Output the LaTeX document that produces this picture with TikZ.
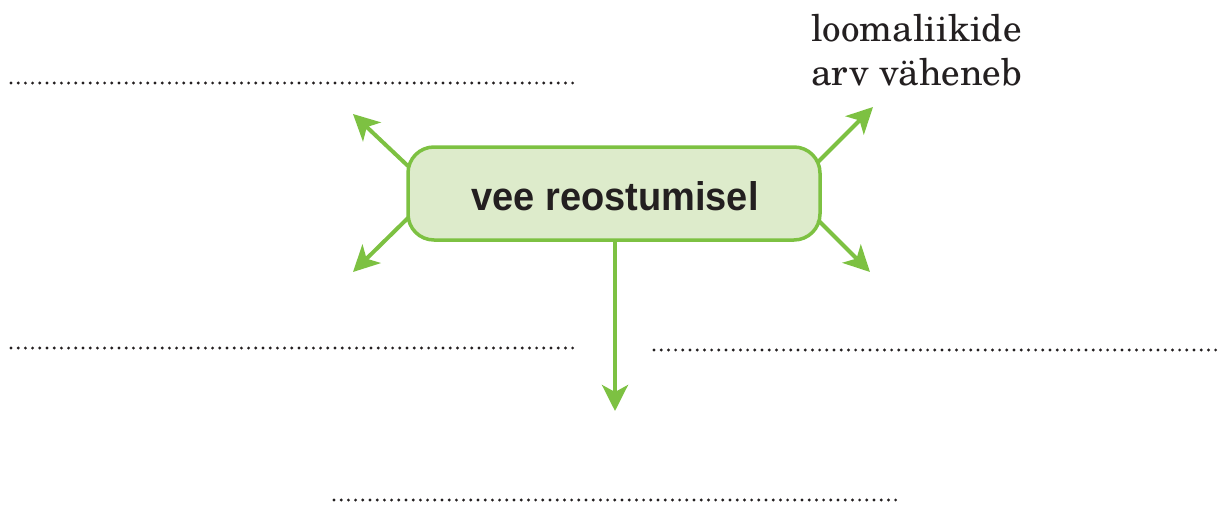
\documentclass[tikz,border=0pt]{standalone}
\usepackage{fontspec}
\setmainfont{TeX Gyre Schola}
\newfontfamily\boxfont{Liberation Sans}
\usetikzlibrary{arrows.meta}
\definecolor{lgreen}{HTML}{7DC142}
\definecolor{lfill}{HTML}{DDEBCB}
\definecolor{ink}{HTML}{231F20}
\tikzset{
  mainbox/.style={draw=lgreen, fill=lfill, line width=3.5pt, rounded corners=26pt, minimum width=412pt, minimum height=93pt, inner sep=0pt},
  garrow/.style={draw=lgreen, line width=4pt, -{Stealth[length=26pt,width=26pt,inset=7pt]}},
  blank/.style={draw=ink, line width=3.2pt, line cap=round, dash pattern=on 0pt off 7.2pt},
  lbl/.style={font=\fontsize{37}{44}\selectfont, text=ink, inner sep=0pt, anchor=base west}
}
\begin{document}
\begin{tikzpicture}[x=1pt,y=-1pt]
\useasboundingbox (0,0) rectangle (1219,506);
\node[mainbox] (c) at (614,193.5) {};
\node[font=\boxfont\bfseries\fontsize{40}{40}\selectfont, text=ink, xscale=0.95] (t) at (615,196) {vee reostumisel};
\coordinate (ul) at (353,114);
\coordinate (ll) at (353,272);
\coordinate (ur) at (873,107);
\coordinate (lr) at (870,272);
\coordinate (dn) at (615,411);
\draw[garrow] (408,166) -- (ul);
\draw[garrow] (409,217) -- (ll);
\draw[garrow] (817,163) -- (ur);
\draw[garrow] (818,220) -- (lr);
\draw[garrow] (c.south -| dn) -- (dn);
\node[lbl] (txt1) at (811,41) {loomaliikide};
\node[lbl] (txt2) at (811,85) {arv väheneb};
\coordinate (b1a) at (11,83);  \coordinate (b1b) at (576,83);
\coordinate (b2a) at (11,348); \coordinate (b2b) at (576,348);
\coordinate (b3a) at (654,350); \coordinate (b3b) at (1218,350);
\coordinate (b4a) at (334,500); \coordinate (b4b) at (898,500);
\draw[blank] (b1a) -- (b1b);
\draw[blank] (b2a) -- (b2b);
\draw[blank] (b3a) -- (b3b);
\draw[blank] (b4a) -- (b4b);
\end{tikzpicture}
\end{document}
